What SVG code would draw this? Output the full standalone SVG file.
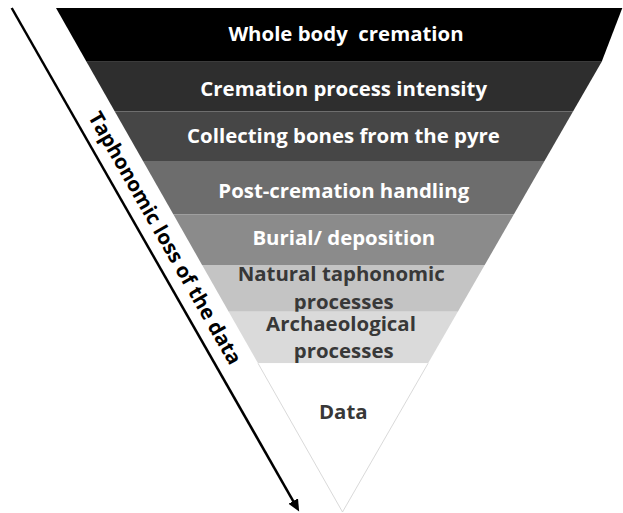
<svg xmlns="http://www.w3.org/2000/svg" width="623" height="513" viewBox="0 0 623 513">
<defs>
<style>
.lbl{font-family:"Open Sans","Noto Sans","Liberation Sans",sans-serif;font-weight:700;font-size:20.4px;text-anchor:middle;white-space:pre}
.w{fill:#ffffff}
.d{fill:#383838}
.axis{fill:none;stroke:#000;stroke-width:2.5}
</style>
<marker id="ah" markerUnits="userSpaceOnUse" markerWidth="13" markerHeight="12" refX="2" refY="5.5" orient="auto" viewBox="0 0 13 12">
<path d="M0,0 L12,5.5 L0,11 z" fill="#000"/>
</marker>
</defs>
<rect width="623" height="513" fill="#ffffff"/>
<g id="band1"><polygon points="56,8 622.3,8 601.7,61.7 86.5,61.7" fill="#000000"/><text class="lbl w" x="346" y="40.6" xml:space="preserve">Whole body  cremation</text></g>
<g id="band2"><polygon points="86.5,61.7 601.7,61.7 573,111.5 114.8,111.5" fill="#2e2e2e"/><text class="lbl w" x="343.7" y="96">Cremation process intensity</text></g>
<g id="band3"><polygon points="114.8,111.5 573,111.5 544.5,161 143,161" fill="#464646"/><text class="lbl w" x="343.5" y="143.3">Collecting bones from the pyre</text></g>
<g id="band4"><polygon points="143,161 544.5,161 513.9,214.3 173.3,214.3" fill="#6d6d6d"/><text class="lbl w" x="343.8" y="198.3">Post-cremation handling</text></g>
<g id="band5"><polygon points="173.3,214.3 513.9,214.3 484.7,265 202.1,265" fill="#8b8b8b"/><text class="lbl w" x="343.8" y="245">Burial/ deposition</text></g>
<g id="band6"><polygon points="202.1,265 484.7,265 457.8,311.7 228.7,311.7" fill="#c4c4c4"/><text class="lbl d" x="341.2" y="281">Natural taphonomic</text><text class="lbl d" x="343.7" y="309">processes</text></g>
<g id="band7"><polygon points="228.7,311.7 457.8,311.7 428.1,363.3 258,363.3" fill="#dadada"/><text class="lbl d" x="341" y="331.2">Archaeological</text><text class="lbl d" x="343.7" y="357.7">processes</text></g>
<g id="band8"><polygon points="258,363.3 428.1,363.3 342.5,512" fill="#ffffff"/><path d="M258,363.3 L342.5,512 L428.1,363.3" fill="none" stroke="#cfcfcf" stroke-width="0.8"/><text class="lbl d" x="343.3" y="419.3">Data</text></g>
<g id="connectors">
<line class="axis" x1="11.7" y1="8" x2="294.2" y2="502.8" marker-end="url(#ah)"/>
</g>
<g id="axis-label"><text class="lbl" fill="#000" transform="translate(164.9,238) rotate(60.3)" x="0" y="7">Taphonomic loss of the data</text></g>
</svg>
